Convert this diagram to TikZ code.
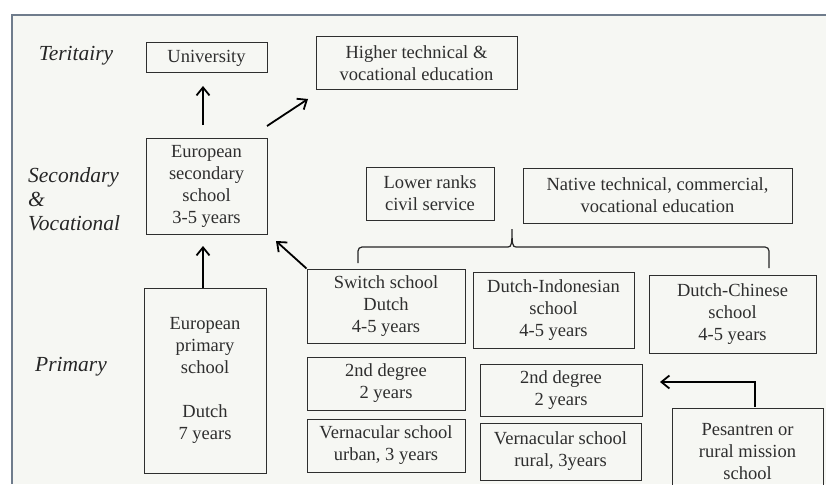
\documentclass[tikz,border=0pt]{standalone}
\usepackage{fontspec}
\setmainfont{Liberation Serif}
\usetikzlibrary{arrows.meta}
\definecolor{paper}{HTML}{F6F7F3}
\definecolor{frame}{HTML}{6F7C8C}
\definecolor{ink}{HTML}{2E2E2E}
\tikzset{
  box/.style={draw=ink, line width=1pt, text=ink, align=center, inner sep=0pt,
    font=\fontsize{18.5}{22}\selectfont},
  level/.style={font=\fontsize{21.5}{24}\selectfont\itshape, text=black!85, align=left, inner sep=0pt},
  arr/.style={line width=1.8pt, -{Straight Barb[length=8pt,width=13pt,line width=1.8pt]}},
  brace/.style={line width=1.2pt, draw=black!85}
}
\begin{document}
\begin{tikzpicture}[x=1pt,y=-1pt]
\useasboundingbox (0,0) rectangle (826,484);
\clip (0,0) rectangle (826,484);
\fill[white] (0,0) rectangle (826,484);
\fill[paper] (12,15) rectangle (826,484);
\draw[frame, line width=1.5pt] (12,484) -- (12,15) -- (826,15);

% level labels
\node[level] (lt) at (76,56) {Teritairy};
\node[level, anchor=west] (ls) at (28,199) {Secondary\\\&\\Vocational};
\node[level] (lp) at (71,367) {Primary};

% boxes
\node[box, minimum width=121, minimum height=30] (uni) at (206.5,58) {University};
\node[box, minimum width=201, minimum height=53] (high) at (416.5,63.5) {Higher technical \&\\vocational education};
\node[box, minimum width=121, minimum height=96] (eursec) at (206.5,186) {European\\secondary\\school\\3-5 years};
\node[box, minimum width=128, minimum height=53] (lower) at (430,193.5) {Lower ranks\\civil service};
\node[box, minimum width=269, minimum height=55] (native) at (657.5,195.5) {Native technical, commercial,\\vocational education};
\node[box, minimum width=158, minimum height=74] (switch) at (386,306) {Switch school\\Dutch\\4-5 years};
\node[box, minimum width=161, minimum height=76] (dind) at (553.5,310) {Dutch-Indonesian\\school\\4-5 years};
\node[box, minimum width=167, minimum height=78] (dchin) at (732.5,314) {Dutch-Chinese\\school\\4-5 years};
\node[box, minimum width=122, minimum height=185] (eurprim) at (205,380.5) {European\\primary\\school\\[22pt]Dutch\\7 years};
\node[box, minimum width=158, minimum height=53] (deg2a) at (386,383.5) {2nd degree\\2 years};
\node[box, minimum width=158, minimum height=53] (vernu) at (386,445.5) {Vernacular school\\urban, 3 years};
\node[box, minimum width=162, minimum height=52] (deg2b) at (561,390) {2nd degree\\2 years};
\node[box, minimum width=161, minimum height=57] (vernr) at (560.5,451.5) {Vernacular school\\rural, 3years};
\node[box, minimum width=151, minimum height=87, text depth=0pt] (pes) at (747.5,451.5) {Pesantren or\\rural mission\\school};

% free ends of connectors
\coordinate (a1s) at (203,125);
\coordinate (a1e) at (203,86);
\coordinate (a2s) at (267,126);
\coordinate (a2e) at (308,99);
\coordinate (a3e) at (203,246);
\coordinate (a4e) at (276,241);
\coordinate (a5s) at (755,407);
\coordinate (a5m) at (755,382);
\coordinate (a5e) at (660,382);

% arrows
\draw[arr] (a1s) -- (a1e);
\draw[arr] (a2s) -- (a2e);
\draw[arr] (eurprim.north -| a3e) -- (a3e);
\draw[arr] (switch.north west) -- (a4e);
\draw[arr] (a5s) -- (a5m) -- (a5e);

% brace
\draw[brace, rounded corners=4pt] (358,263) |- (508,247);
\draw[brace] (508,247) .. controls (511.5,247) and (512,244) .. (512,229)
             .. controls (512,244) and (512.5,247) .. (516,247);
\draw[brace, rounded corners=4pt] (516,247) -| (769,268);
\end{tikzpicture}
\end{document}
